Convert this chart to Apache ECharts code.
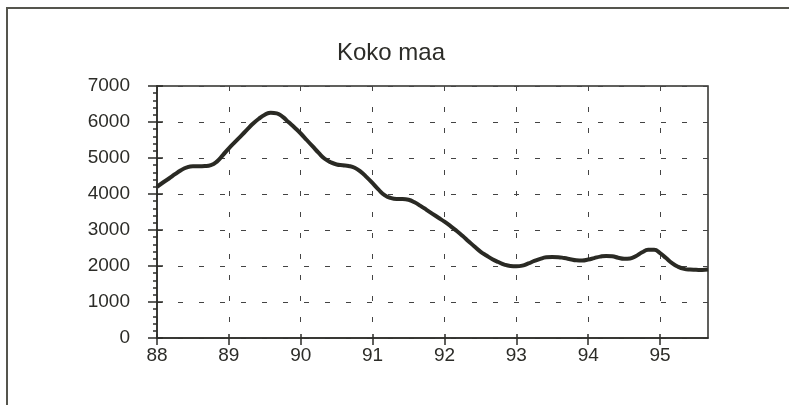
<!DOCTYPE html>
<html>
<head>
<meta charset="utf-8">
<script src="https://cdn.jsdelivr.net/npm/echarts@6/dist/echarts.min.js"></script>
<style>
  html, body { margin: 0; padding: 0; background: #fff; }
  #chart { width: 789px; height: 405px; }
</style>
</head>
<body>
<div id="chart"></div>
<script>
// monthly values, Jan 1988 .. Sep 1995
const startYear = 88
const values = [
  4200, 4320, 4430, 4550, 4660, 4740, 4770, 4770, 4775, 4800, 4900, 5080,
  5270, 5440, 5610, 5780, 5950, 6090, 6200, 6260, 6240, 6140, 5990, 5840,
  5680, 5500, 5320, 5140, 4980, 4880, 4820, 4800, 4780, 4730, 4620, 4470,
  4300, 4120, 3970, 3890, 3860, 3860, 3840, 3770, 3670, 3560, 3450, 3340,
  3230, 3110, 2980, 2840, 2690, 2540, 2400, 2290, 2190, 2110, 2040, 2000,
  1990, 2010, 2070, 2140, 2200, 2240, 2250, 2245, 2220, 2190, 2160, 2155,
  2180, 2220, 2260, 2280, 2270, 2230, 2200, 2210, 2280, 2380, 2450, 2450,
  2360, 2220, 2080, 1980, 1920, 1900, 1895, 1890, 1900
]
const yearTicks = [88, 89, 90, 91, 92, 93, 94, 95]
const yTicks = [0, 1000, 2000, 3000, 4000, 5000, 6000, 7000]
const title = 'Koko maa'

const points = values.map((v, i) => [startYear + i / 12, v])
const xMax = startYear + (values.length - 1) / 12

const ink = '#2c2c28'
const font = 'Liberation Sans'

const chart = echarts.init(document.getElementById('chart'))
chart.setOption({
  backgroundColor: '#fff',
  animation: false,
  title: {
    text: title,
    left: 386,
    top: 36,
    textAlign: 'center',
    textStyle: { fontFamily: font, fontSize: 24, fontWeight: 'normal', color: ink }
  },
  graphic: [{
    type: 'rect',
    shape: { x: 7, y: 8, width: 900, height: 600 },
    style: { fill: 'none', stroke: '#55554d', lineWidth: 2 },
    silent: true
  }],
  grid: {
    left: 157, right: 81, top: 86, bottom: 67,
    show: true, borderColor: ink, borderWidth: 1.5
  },
  xAxis: [{
    type: 'value',
    min: startYear, max: xMax, interval: 1,
    axisLine: { show: true, lineStyle: { color: ink, width: 1.5 } },
    axisTick: { show: true, length: 7, customValues: yearTicks, lineStyle: { color: ink, width: 1.5 } },
    axisLabel: {
      customValues: yearTicks, margin: 8,
      formatter: v => String(v),
      fontFamily: font, fontSize: 19, color: ink
    },
    splitLine: { show: true, lineStyle: { color: '#444', width: 1, type: [5, 16] } }
  }, {
    type: 'value', position: 'bottom',
    min: startYear, max: xMax, interval: 1,
    axisLine: { show: false },
    axisTick: { show: true, inside: true, length: 4, customValues: yearTicks, lineStyle: { color: ink, width: 1.5 } },
    axisLabel: { show: false },
    splitLine: { show: false }
  }],
  yAxis: [{
    type: 'value',
    min: yTicks[0], max: yTicks[yTicks.length - 1], interval: 1000,
    axisLine: { show: true, lineStyle: { color: ink, width: 1.5 } },
    axisTick: { show: true, length: 9, lineStyle: { color: ink, width: 1.5 } },
    minorTick: { show: true, splitNumber: 5, length: 4, lineStyle: { color: ink, width: 1.5 } },
    axisLabel: { margin: 27, formatter: v => String(v), fontFamily: font, fontSize: 19, color: ink },
    splitLine: { show: true, lineStyle: { color: '#444', width: 1, type: [5, 16] } }
  }, {
    type: 'value', position: 'left',
    min: yTicks[0], max: yTicks[yTicks.length - 1], interval: 1000,
    axisLine: { show: false },
    axisTick: { show: true, inside: true, length: 6, lineStyle: { color: ink, width: 1.5 } },
    axisLabel: { show: false },
    splitLine: { show: false }
  }],
  series: [{
    type: 'line',
    data: points,
    smooth: true,
    showSymbol: false,
    lineStyle: { color: '#2a2a24', width: 4 }
  }]
})
</script>
</body>
</html>
